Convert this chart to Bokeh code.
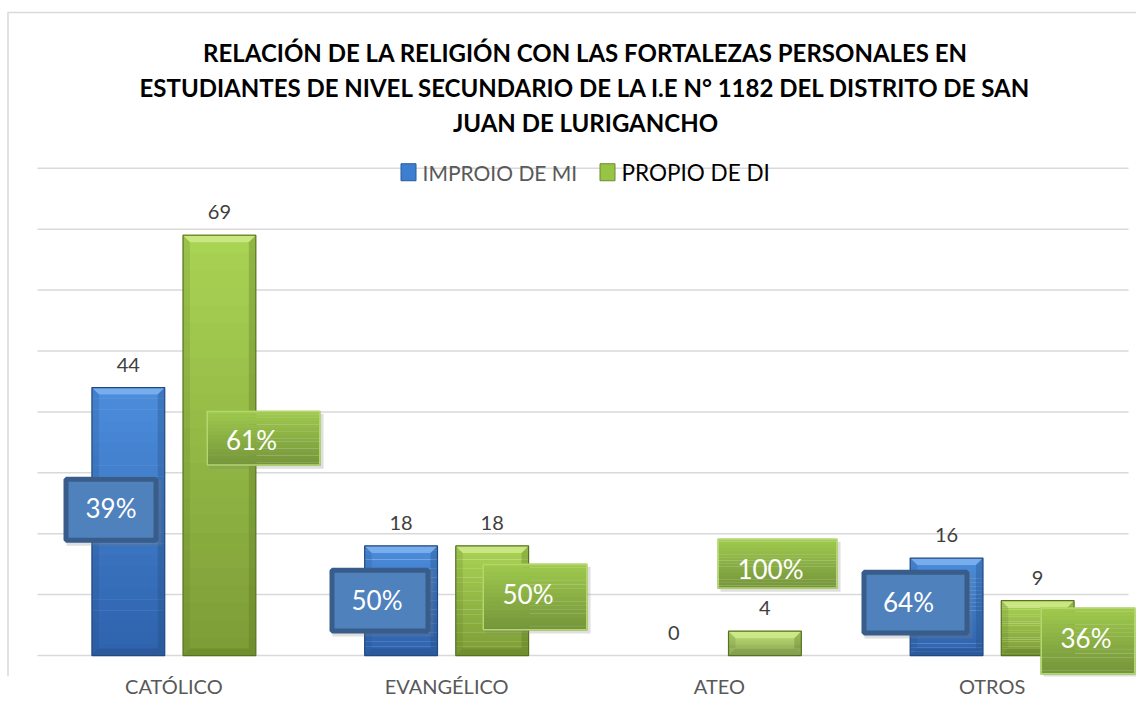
import numpy as np
from bokeh.plotting import figure
from bokeh.models import FixedTicker
from bokeh.core.properties import value
from bokeh.embed import file_html
from bokeh.resources import INLINE

# ---------------- data ----------------
categories = ["CATÓLICO", "EVANGÉLICO", "ATEO", "OTROS"]
series_names = ["IMPROIO DE MI", "PROPIO DE DI"]
impropio = [44, 18, 0, 16]
propio = [69, 18, 4, 9]
impropio_pct = ["39%", "50%", "", "64%"]
propio_pct = ["61%", "50%", "100%", "36%"]
y_ticks = [0, 10, 20, 30, 40, 50, 60, 70, 80]
title_lines = [
    "RELACIÓN DE LA RELIGIÓN CON LAS FORTALEZAS PERSONALES EN",
    "ESTUDIANTES DE NIVEL SECUNDARIO DE LA I.E N° 1182 DEL DISTRITO DE SAN",
    "JUAN DE LURIGANCHO",
]

# ---------------- layout (label placement, as in the reference) ----------------
# percentage callouts: box centre (x in category units, y in value units), box size px, text offset px
imp_box = [(0.2695, 23.93, 95, 66, 0, -2), (1.2557, 9.02, 101, 66, -3, -1), None, (3.2190, 8.69, 108, 66, -7, -1)]
pro_box = [(0.8286, 35.66, 114, 55, -12, 2), (1.8240, 9.59, 105, 67, -7, -3), (2.7131, 15.08, 120, 50, -7, 5),
           (3.8515, 2.38, 95, 67, -2, -3)]

W, H = 1136, 700
PXX, PXY = 272.75, 6.1           # pixels per x unit / y unit
ORIG_X, ORIG_Y = 37, 656          # pixel position of (0, 0)
FRAME_B = 23
STANDOFF = -3
x0 = -ORIG_X / PXX
x1 = x0 + W / PXX
y1 = ORIG_Y / PXY
y0 = y1 - (H - FRAME_B) / PXY


def px_x(px):
    return (px - ORIG_X) / PXX


def px_y(py):
    return (ORIG_Y - py) / PXY


p = figure(width=W, height=H, x_range=(x0, x1), y_range=(y0, y1),
           min_border_left=0, min_border_right=0, min_border_top=0, min_border_bottom=FRAME_B,
           y_axis_location=None, toolbar_location=None, output_backend="svg")
p.outline_line_color = None
p.grid.visible = False
p.background_fill_color = "white"
p.border_fill_color = "white"

FONT = value("Lato")

# chart border (light)
p.segment(x0=[px_x(7), px_x(7.5)], y0=[px_y(12), px_y(12)], x1=[x1, px_x(7.5)], y1=[px_y(12), y0],
          line_color="#D9D9D9", line_width=1.5)

# gridlines
n_cat = len(categories)
p.segment(x0=[0] * len(y_ticks), x1=[n_cat] * len(y_ticks), y0=y_ticks, y1=y_ticks,
          line_color="#D9D9D9", line_width=1.5)

BW = 0.267
OFF = 0.167


def mix(c1, c2, t):
    a = np.array([int(c1[i:i + 2], 16) for i in (1, 3, 5)])
    b = np.array([int(c2[i:i + 2], 16) for i in (1, 3, 5)])
    c = (a + (b - a) * t).round().astype(int)
    return "#%02x%02x%02x" % tuple(c)


def gradient_quads(left, right, bottom, top, c_top, c_bot, n=24):
    ys = np.linspace(bottom, top, n + 1)
    cols = [mix(c_bot, c_top, (i + 0.5) / n) for i in range(n)]
    p.quad(left=[left] * n, right=[right] * n, bottom=ys[:-1], top=ys[1:] + (top - bottom) * 0.002,
           fill_color=cols, line_color=None)


def draw_bar(xc, top, c_top, c_bot, c_light, c_dark):
    if top <= 0:
        return
    l, r = xc - BW / 2, xc + BW / 2
    gradient_quads(l, r, 0, top, c_top, c_bot)
    bx = 7 / PXX
    by = min(7 / PXY, top / 3)
    p.patch([l, r, r - bx, l + bx], [top, top, top - by, top - by], fill_color=c_light, fill_alpha=0.75, line_color=None)
    p.patch([l, r, r - bx, l + bx], [0, 0, by, by], fill_color=c_dark, fill_alpha=0.35, line_color=None)
    p.patch([l, l, l + bx, l + bx], [0, top, top - by, by], fill_color=c_dark, fill_alpha=0.18, line_color=None)
    p.patch([r, r, r - bx, r - bx], [0, top, top - by, by], fill_color=c_dark, fill_alpha=0.30, line_color=None)
    p.quad(left=[l], right=[r], bottom=[0], top=[top], fill_color=None, line_color=c_dark, line_width=1.2)


blue = dict(c_top="#4C8DDC", c_bot="#2E62AC", c_light="#86B8F2", c_dark="#22497F")
green = dict(c_top="#AAD454", c_bot="#7C9C36", c_light="#D4EE90", c_dark="#56721F")

for i in range(n_cat):
    draw_bar(i + 0.5 - OFF, impropio[i], **blue)
    draw_bar(i + 0.5 + OFF, propio[i], **green)

# value labels
xs_b = [i + 0.5 - OFF for i in range(n_cat)]
xs_g = [i + 0.5 + OFF for i in range(n_cat)]
p.text(x=xs_b + xs_g, y=impropio + propio, text=[str(v) for v in impropio + propio],
       y_offset=-23, text_align="center", text_baseline="middle",
       text_font=FONT, text_font_size="20px", text_color="#404040")


def draw_box(spec, label, kind):
    cx, cy, w, h, tdx, tdy = spec
    hw, hh = w / 2 / PXX, h / 2 / PXY
    sx, sy = 3 / PXX, 3 / PXY
    # shadow
    p.quad(left=[cx - hw + sx], right=[cx + hw + sx], bottom=[cy - hh - sy], top=[cy + hh - sy],
           fill_color="#7F7F7F", fill_alpha=0.25, line_color=None)
    if kind == "blue":
        ix, iy = 2.5 / PXX, 2.5 / PXY
        p.quad(left=[cx - hw + ix], right=[cx + hw - ix], bottom=[cy - hh + iy], top=[cy + hh - iy],
               fill_color="#4F81BD", line_color="#385D8A", line_width=5)
    else:
        gradient_quads(cx - hw, cx + hw, cy - hh, cy + hh, "#A0CA4E", "#74943A", n=16)
        ix, iy = 0.75 / PXX, 0.75 / PXY
        p.quad(left=[cx - hw + ix], right=[cx + hw - ix], bottom=[cy - hh + iy], top=[cy + hh - iy],
               fill_color=None, line_color="#B4D76C", line_width=1.5)
    p.text(x=[cx], y=[cy], text=[label], x_offset=tdx, y_offset=tdy, text_align="center",
           text_baseline="middle", text_font=FONT, text_font_size="26px", text_color="white")


for i in range(n_cat):
    if imp_box[i] is not None and impropio_pct[i]:
        draw_box(imp_box[i], impropio_pct[i], "blue")
    if pro_box[i] is not None and propio_pct[i]:
        draw_box(pro_box[i], propio_pct[i], "green")

# title
title_y = [px_y(52), px_y(87), px_y(122)]
p.text(x=[px_x(585)] * 3, y=title_y, text=title_lines, text_align="center", text_baseline="middle",
       text_font=FONT, text_font_style="bold", text_font_size="24px", text_color="black")

# legend
leg_y = px_y(172)
p.rect(x=[px_x(408)], y=[leg_y], width=15, height=17, width_units="screen", height_units="screen",
       fill_color="#3E7ED0", line_color="#2A5A9A", line_width=1)
p.rect(x=[px_x(607)], y=[leg_y], width=15, height=17, width_units="screen", height_units="screen",
       fill_color="#98C446", line_color="#6A8A30", line_width=1)
p.text(x=[px_x(422)], y=[leg_y], text=[series_names[0]], text_align="left", text_baseline="middle",
       text_font=FONT, text_font_size="21px", text_color="#595959")
p.text(x=[px_x(621)], y=[leg_y], text=[series_names[1]], text_align="left", text_baseline="middle",
       text_font=FONT, text_font_size="22.5px", text_color="#000000")

# category axis
p.xaxis.ticker = FixedTicker(ticks=[i + 0.5 for i in range(n_cat)])
p.xaxis.major_label_overrides = {i + 0.5: c for i, c in enumerate(categories)}
p.xaxis.axis_line_color = None
p.xaxis.major_tick_line_color = None
p.xaxis.minor_tick_line_color = None
p.xaxis.major_tick_out = 0
p.xaxis.major_tick_in = 0
p.xaxis.major_label_standoff = STANDOFF
p.xaxis.major_label_text_font = "Lato"
p.xaxis.major_label_text_font_size = "20px"
p.xaxis.major_label_text_color = "#595959"

open("out.html", "w").write(file_html(p, INLINE))
